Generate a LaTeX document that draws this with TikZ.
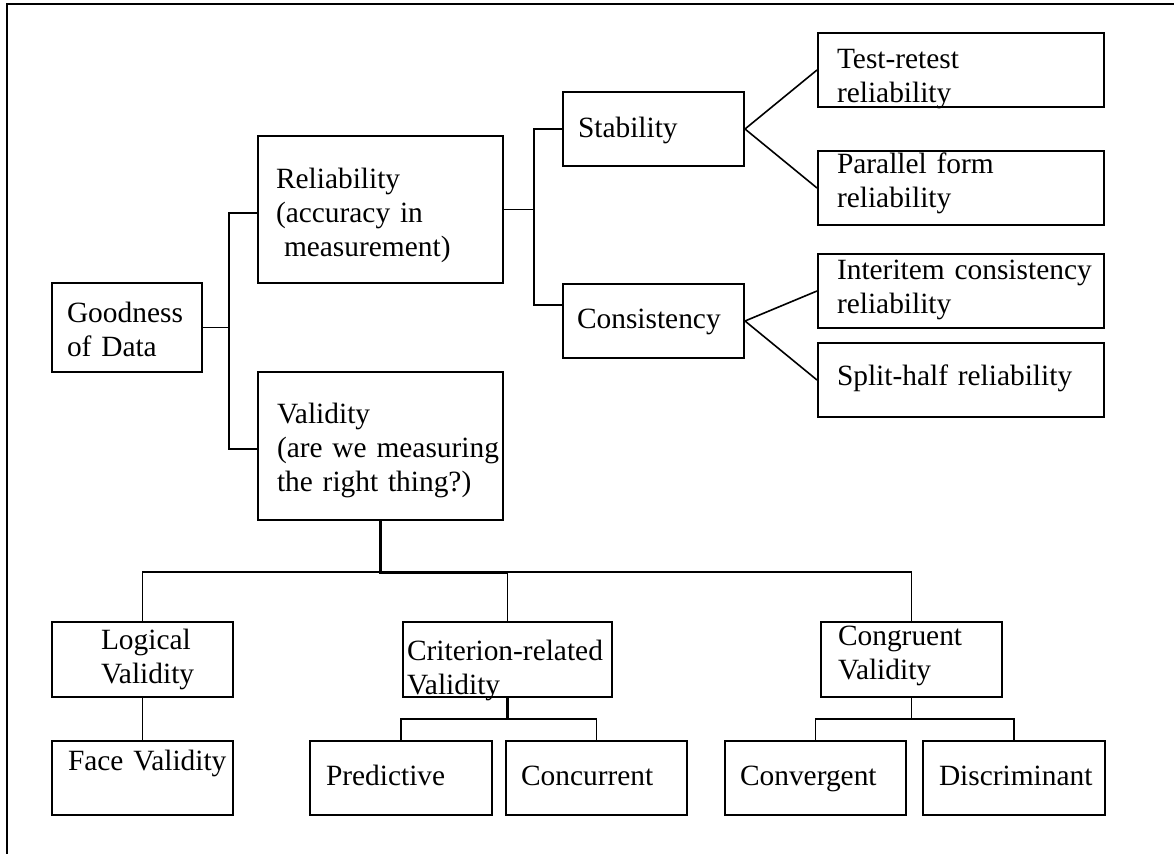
\documentclass[tikz,border=0pt]{standalone}
\usepackage{fontspec}
\setmainfont{Liberation Serif}
\tikzset{
  box/.style={draw, line width=2pt, inner sep=0pt, align=left,
    text height=0pt, text depth=0pt, font=\fontsize{29.4pt}{34pt}\selectfont},
  conn/.style={line width=1.6pt},
  stem/.style={line width=3pt}
}
\begin{document}
\begin{tikzpicture}[x=1pt, y=-1pt]
    \useasboundingbox (0,0) rectangle (1174,854);
    \draw[line width=2pt] (1174,3.5) -- (7,3.5) -- (7,854);

    \node[box, minimum width=150pt, minimum height=89pt, text width=120pt, text depth=11pt] (good) at (127,327.5) {Goodness\\of Data};
    \node[box, minimum width=245pt, minimum height=147pt, text width=209pt, text depth=43pt] (rel) at (380.5,209.5) {Reliability\\(accuracy in\\\hspace*{8pt}measurement)};
    \node[box, minimum width=245pt, minimum height=148pt, text width=207pt, text depth=46pt] (val) at (380.5,446) {Validity\\\mbox{(are we measuring}\\the right thing?)};

    \node[box, minimum width=181pt, minimum height=74pt, text width=151pt, text height=16pt] (stab) at (653.5,129) {Stability};
    \node[box, minimum width=181pt, minimum height=74pt, text width=153pt, text height=14pt] (cons) at (653.5,321) {Consistency};

    \node[box, minimum width=286pt, minimum height=74pt, text width=248pt, text depth=4pt] (test) at (961,70) {\mbox{Test-retest}\\reliability};
    \node[box, minimum width=286pt, minimum height=74pt, text width=248pt, text depth=30pt] (par) at (961,188) {Parallel form\\reliability};
    \node[box, minimum width=286pt, minimum height=74pt, text width=248pt, text depth=24pt] (inter) at (961,291) {\mbox{Interitem consistency}\\reliability};
    \node[box, minimum width=286pt, minimum height=74pt, text width=248pt, text height=10pt] (split) at (961,380) {\mbox{Split-half reliability}};

    \node[box, minimum width=181pt, minimum height=75pt, text width=83pt, text depth=21pt] (logic) at (142.5,659.5) {Logical\\Validity};
    \node[box, minimum width=181pt, minimum height=74pt, text width=149pt, text depth=16pt] (face) at (142.5,778) {\mbox{Face Validity}};
    \node[box, minimum width=209pt, minimum height=75pt, text width=201pt, text height=1pt] (crit) at (507.5,659.5) {\mbox{Criterion-related}\\Validity};
    \node[box, minimum width=182pt, minimum height=74pt, text width=150pt, text height=14pt] (pred) at (401,778) {Predictive};
    \node[box, minimum width=181pt, minimum height=74pt, text width=151pt, text height=14pt] (conc) at (596.5,778) {Concurrent};
    \node[box, minimum width=181pt, minimum height=75pt, text width=147pt, text depth=29pt] (cong) at (911.5,659.5) {Congruent\\Validity};
    \node[box, minimum width=181pt, minimum height=74pt, text width=151pt, text height=14pt] (conv) at (815.5,778) {Convergent};
    \node[box, minimum width=182pt, minimum height=74pt, text width=150pt, text height=14pt] (disc) at (1014,778) {Discriminant};

    \coordinate (j1) at (229,327.5);
    \draw[conn] (good.east) -- (j1);
    \draw[conn] ([yshift=-3.5pt]rel.west) -| (j1) |- ([yshift=-3pt]val.west);

    \coordinate (j2) at (534,209.5);
    \draw[conn] (rel.east) -- (j2);
    \draw[conn] (stab.west) -| (j2) |- ([yshift=16pt]cons.west);
    \draw[conn] (test.west) -- (stab.east) -- (par.west);
    \draw[conn] (inter.west) -- (cons.east) -- (split.west);

    \coordinate (j3) at (380.5,572);
    \draw[stem] (val.south) -- (j3) -- (j3 -| crit.north);
    \draw[conn] (logic.north) |- (j3 -| cong.north) -- (cong.north);
    \draw[conn] (j3 -| crit.north) -- (crit.north);
    \draw[conn] (logic.south) -- (face.north);

    \coordinate (j4) at (507.5,719);
    \draw[stem] (crit.south) -- (j4);
    \draw[conn] (pred.north) |- (j4 -| conc.north) -- (conc.north);

    \coordinate (j5) at (911.5,719);
    \draw[conn] (cong.south) -- (j5);
    \draw[conn] (conv.north) |- (j5 -| disc.north) -- (disc.north);
\end{tikzpicture}
\end{document}
